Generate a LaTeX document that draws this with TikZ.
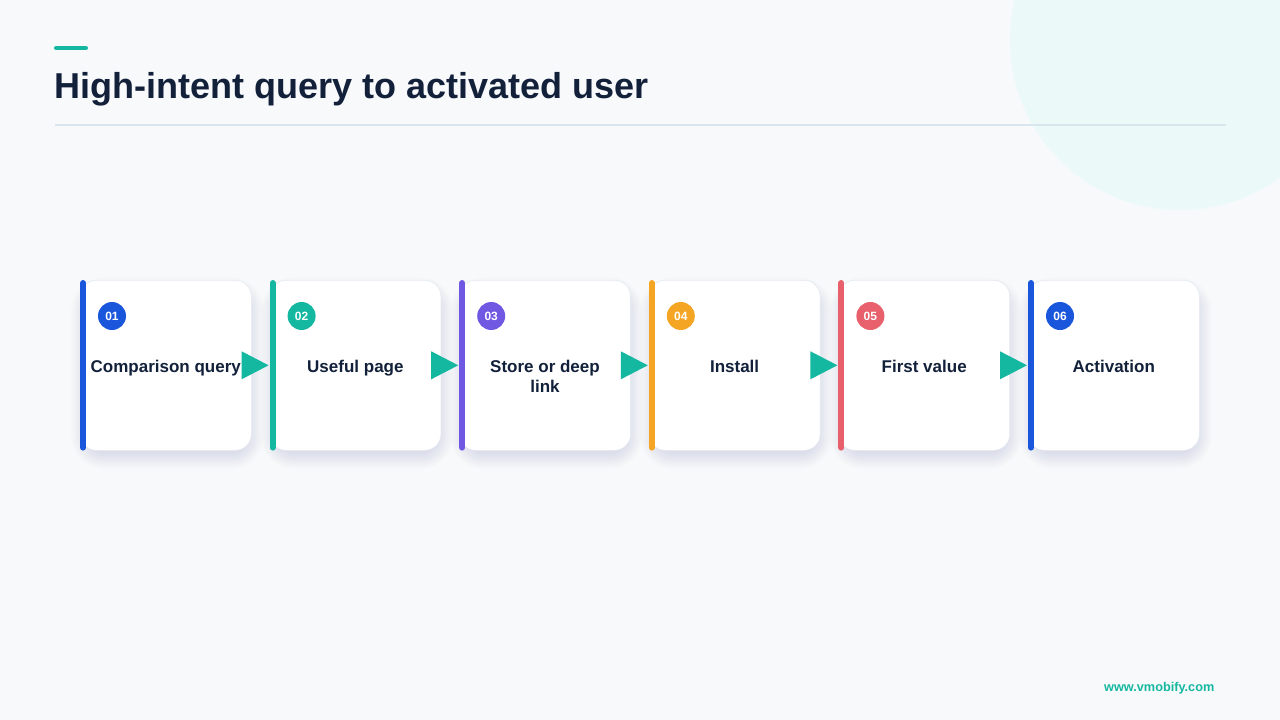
\documentclass[tikz,border=0pt]{standalone}
\usepackage{fontspec}
\setmainfont{Liberation Sans}
\definecolor{bg}{HTML}{F7F9FB}
\definecolor{circfill}{HTML}{EBF9F8}
\definecolor{ink}{HTML}{12203A}
\definecolor{rulec}{HTML}{D9E6EE}
\definecolor{cardline}{HTML}{E5EAF0}
\definecolor{shade}{HTML}{4A5A78}
\definecolor{cblue}{HTML}{1A56DB}
\definecolor{cteal}{HTML}{14B8A0}
\definecolor{cpurple}{HTML}{7158E2}
\definecolor{corange}{HTML}{F5A524}
\definecolor{cred}{HTML}{E8606C}
\begin{document}
\begin{tikzpicture}[x=1pt,y=-1pt,
  card/.style={fill=white, draw=cardline, line width=0.6pt, rounded corners=16pt,
    minimum width=171pt, minimum height=170pt, inner sep=0pt},
  softshade/.style={fill=shade, fill opacity=0.009},
  badge/.style={circle, minimum size=28pt, inner sep=0pt, text=white,
    font=\fontsize{12}{14}\selectfont\bfseries},
  lbl/.style={anchor=north, inner sep=0pt, align=center, text=ink,
    font=\fontsize{17}{20}\selectfont\bfseries},
  sidebar/.style={line width=6pt, line cap=round},
  flowtri/.style={fill=cteal}
]
\useasboundingbox (0,0) rectangle (1280,720);
\fill[bg] (0,0) rectangle (1280,720);
\begin{scope}
  \clip (0,0) rectangle (1280,720);
  \fill[circfill] (1180,40) circle[radius=170];
\end{scope}

% header
\coordinate (accL) at (56,48);
\coordinate (accR) at (86,48);
\draw[cteal, line width=4pt, line cap=round] (accL) -- (accR);
\node[anchor=base west, inner sep=0pt, text=ink,
  font=\fontsize{36}{40}\selectfont\bfseries] (title) at (54.5,98.5)
  {High-intent query to activated user};
\coordinate (ruleL) at (55,125);
\coordinate (ruleR) at (1226,125);
\draw[rulec, line width=1.5pt] (ruleL) -- (ruleR);

% soft shadows under the cards
\foreach \i in {1,...,6} {
  \pgfmathsetmacro\xx{80+189.6*(\i-1)}
  \foreach \k in {1,...,14} {
    \fill[softshade, rounded corners={16pt+1.2*\k pt}]
      (\xx+8-1.2*\k,280+14-1.2*\k) rectangle (\xx+167+1.2*\k,450+2+1.2*\k);
  }
}

% cards
\foreach \i/\col/\lab in {1/cblue/{Comparison query},2/cteal/{Useful page},3/cpurple/{Store or deep\\link},4/corange/{Install},5/cred/{First value},6/cblue/{Activation}} {
  \pgfmathsetmacro\xx{80+189.6*(\i-1)}
  \node[card, anchor=north west] (c\i) at (\xx,280) {};
  \draw[sidebar, draw=\col] ([xshift=3pt,yshift=-3pt]c\i.north west) -- ([xshift=3pt,yshift=3pt]c\i.south west);
  \node[badge, fill=\col] (b\i) at ([xshift=32pt,yshift=-36pt]c\i.north west) {0\i};
  \node[lbl] (t\i) at ([yshift=-79.5pt]c\i.north) {\lab};
}

% arrows
\foreach \i [evaluate=\i as \j using int(\i+1)] in {1,...,5} {
  \fill[flowtri] ([xshift=-10pt,yshift=14pt]c\i.east) -- ([xshift=-1pt]c\j.west) -- ([xshift=-10pt,yshift=-14pt]c\i.east) -- cycle;
}

% footer
\node[anchor=base east, inner sep=0pt, text=cteal,
  font=\fontsize{12.7}{15}\selectfont\bfseries] (foot) at (1214.5,691) {www.vmobify.com};
\end{tikzpicture}
\end{document}
